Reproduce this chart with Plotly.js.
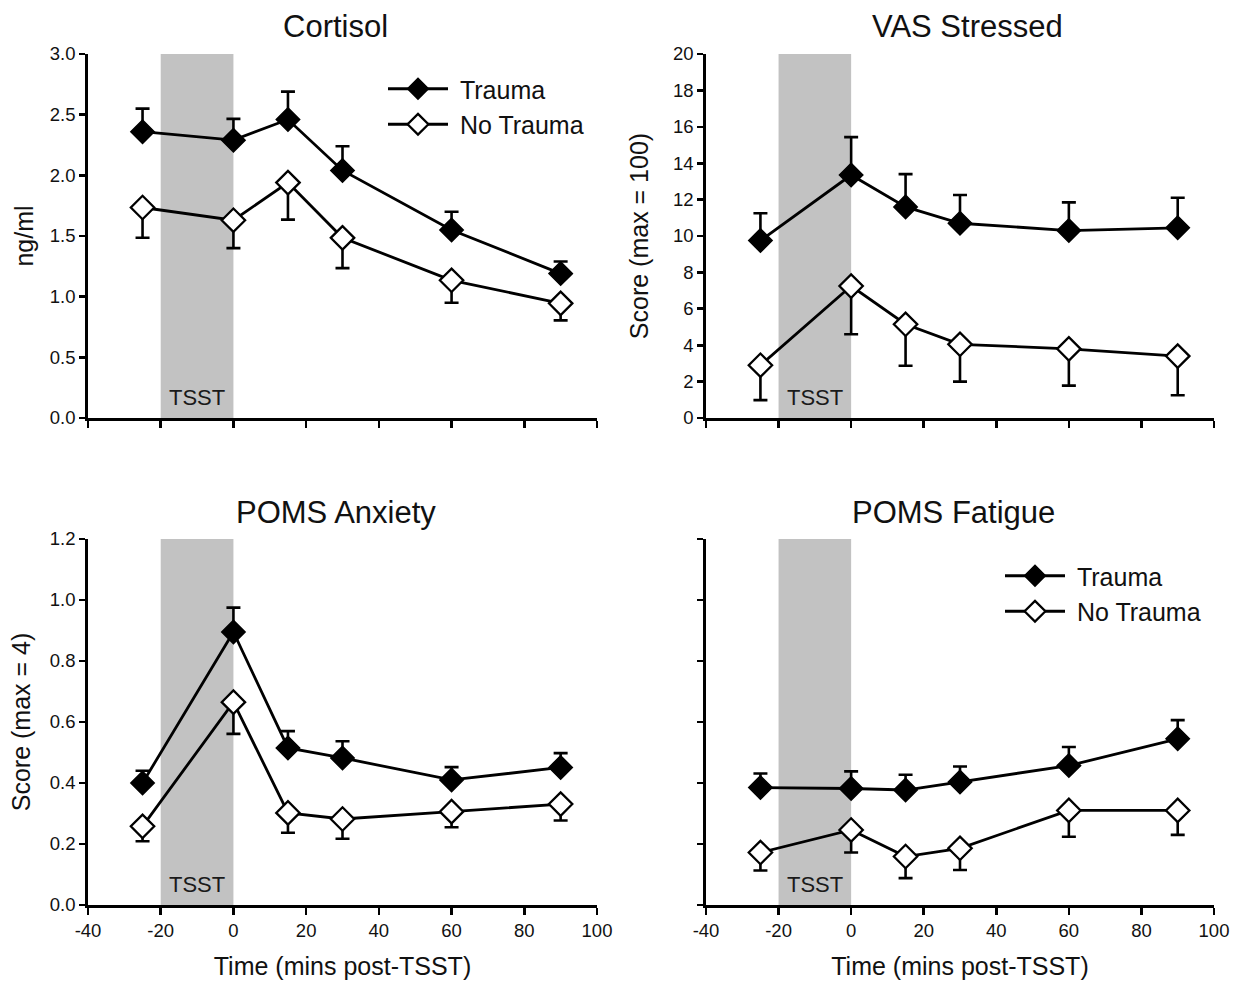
<!DOCTYPE html>
<html>
<head>
<meta charset="utf-8">
<script src="https://cdn.plot.ly/plotly-3.0.1.min.js"></script>
<style>html,body{margin:0;padding:0;background:#fff;}#chart{width:1243px;height:983px;}</style>
</head>
<body>
<div id="chart"></div>
<script>
// ---- data ----
const times = [-25, 0, 15, 30, 60, 90];
const seriesNames = ["Trauma", "No Trauma"];
const panelTitles = ["Cortisol", "VAS Stressed", "POMS Anxiety", "POMS Fatigue"];
const yTitles = ["ng/ml", "Score (max = 100)", "Score (max = 4)", ""];
const tsstStart = -20, tsstEnd = 0, tsstLabel = "TSST";
const xTitle = "Time (mins post-TSST)";
const xTickVals = [-40, -20, 0, 20, 40, 60, 80, 100];
const xTickText = ["-40", "-20", "0", "20", "40", "60", "80", "100"];

const cortisolTrauma = [2.36, 2.29, 2.46, 2.04, 1.55, 1.19];
const cortisolTraumaErr = [0.19, 0.175, 0.23, 0.2, 0.15, 0.1];
const cortisolNoTrauma = [1.735, 1.63, 1.94, 1.485, 1.135, 0.945];
const cortisolNoTraumaErr = [0.25, 0.23, 0.305, 0.25, 0.185, 0.14];

const vasTrauma = [9.75, 13.35, 11.6, 10.7, 10.3, 10.45];
const vasTraumaErr = [1.5, 2.08, 1.8, 1.55, 1.55, 1.65];
const vasNoTrauma = [2.9, 7.25, 5.15, 4.05, 3.8, 3.4];
const vasNoTraumaErr = [1.92, 2.65, 2.28, 2.05, 2.02, 2.15];

const anxTrauma = [0.40, 0.895, 0.515, 0.482, 0.41, 0.451];
const anxTraumaErr = [0.04, 0.08, 0.055, 0.055, 0.042, 0.047];
const anxNoTrauma = [0.258, 0.665, 0.302, 0.282, 0.306, 0.331];
const anxNoTraumaErr = [0.049, 0.104, 0.065, 0.065, 0.051, 0.054];

const fatTrauma = [0.385, 0.382, 0.377, 0.403, 0.457, 0.545];
const fatTraumaErr = [0.046, 0.056, 0.05, 0.051, 0.061, 0.061];
const fatNoTrauma = [0.172, 0.246, 0.159, 0.186, 0.31, 0.31];
const fatNoTraumaErr = [0.059, 0.074, 0.071, 0.071, 0.086, 0.08];

const yRanges = [[0, 3], [0, 20], [0, 1.2], [0, 1.2]];
const yDticks = [0.5, 2, 0.2, 0.2];
const yFormats = [".1f", "d", ".1f", ".1f"];

// ---- build ----
const FONT = "Arial, 'Liberation Sans', sans-serif";
const TXT = "#111";
const panels = [
  [cortisolTrauma, cortisolTraumaErr, cortisolNoTrauma, cortisolNoTraumaErr],
  [vasTrauma, vasTraumaErr, vasNoTrauma, vasNoTraumaErr],
  [anxTrauma, anxTraumaErr, anxNoTrauma, anxNoTraumaErr],
  [fatTrauma, fatTraumaErr, fatNoTrauma, fatNoTraumaErr]
];
const W = 1243, H = 983;
const xDom = [[88 / W, 597 / W], [706 / W, 1214 / W]];
const yDom = [[1 - 418 / H, 1 - 54 / H], [1 - 905 / H, 1 - 539 / H]];
const titleShift = [-7, 7, -7, -7];
const yTitleStandoff = [9, 18, 12, 0];

const traces = [];
const legendStyle = {
  xanchor: "left", yanchor: "top",
  font: {size: 25, family: FONT, color: TXT}, bgcolor: "rgba(0,0,0,0)",
  itemwidth: 60, tracegroupgap: 0
};
const layout = {
  width: W, height: H,
  margin: {l: 0, r: 0, t: 0, b: 0},
  paper_bgcolor: "#fff", plot_bgcolor: "rgba(0,0,0,0)",
  font: {family: FONT, color: TXT},
  shapes: [], annotations: [],
  legend: Object.assign({x: 383 / W, y: 1 - 66 / H}, legendStyle),
  legend2: Object.assign({x: 1000 / W, y: 1 - 553 / H}, legendStyle)
};

panels.forEach((p, i) => {
  const col = i % 2, row = Math.floor(i / 2);
  const n = i + 1;
  const xa = "x" + (n === 1 ? "" : n), ya = "y" + (n === 1 ? "" : n);
  const xkey = "xaxis" + (n === 1 ? "" : n), ykey = "yaxis" + (n === 1 ? "" : n);
  const legendRef = i === 0 ? "legend" : (i === 3 ? "legend2" : null);
  const zeros = times.map(() => 0);
  const common = {
    x: times, xaxis: xa, yaxis: ya, type: "scatter", mode: "lines+markers",
    line: {color: "#000", width: 2.8},
    showlegend: legendRef !== null,
    legend: legendRef || "legend"
  };
  traces.push(Object.assign({}, common, {
    y: p[0], name: "\u00a0" + seriesNames[0],
    marker: {symbol: "diamond", size: 18, color: "#000", line: {color: "#000", width: 1.5}},
    error_y: {type: "data", symmetric: false, array: p[1], arrayminus: zeros,
      color: "#000", thickness: 2.6, width: 7}
  }));
  traces.push(Object.assign({}, common, {
    y: p[2], name: "\u00a0" + seriesNames[1],
    marker: {symbol: "diamond", size: 18, color: "#fff", line: {color: "#000", width: 2.3}},
    error_y: {type: "data", symmetric: false, array: zeros, arrayminus: p[3],
      color: "#000", thickness: 2.6, width: 7}
  }));

  layout[xkey] = {
    domain: xDom[col], anchor: ya, range: [-40, 100],
    tickmode: "array", tickvals: xTickVals, ticktext: xTickText,
    showline: true, linecolor: "#000", linewidth: 2.8, mirror: false,
    ticks: "outside", ticklen: 7, tickwidth: 2.6, tickcolor: "#000",
    showgrid: false, zeroline: false, fixedrange: true,
    showticklabels: row === 1,
    tickfont: {size: 18.5, family: FONT, color: TXT},
    title: row === 1 ? {text: xTitle, font: {size: 25, family: FONT, color: TXT}, standoff: 18} : undefined
  };
  layout[ykey] = {
    domain: yDom[row], anchor: xa, range: yRanges[i], dtick: yDticks[i], tick0: 0,
    showline: true, linecolor: "#000", linewidth: 2.8,
    ticks: "outside", ticklen: 6, tickwidth: 2.6, tickcolor: "#000",
    showgrid: false, zeroline: false, fixedrange: true,
    tickformat: yFormats[i], showticklabels: i !== 3,
    tickfont: {size: 18.5, family: FONT, color: TXT},
    title: {text: yTitles[i], font: {size: 25, family: FONT, color: TXT}, standoff: yTitleStandoff[i]}
  };

  layout.shapes.push({
    type: "rect", xref: xa, yref: ya + " domain", x0: tsstStart, x1: tsstEnd, y0: 0, y1: 1,
    fillcolor: "#c2c2c2", line: {width: 0}, layer: "below"
  });
  layout.annotations.push({
    xref: xa, yref: ya + " domain", x: (tsstStart + tsstEnd) / 2, y: 0,
    xanchor: "center", yanchor: "bottom", yshift: 6, showarrow: false,
    text: tsstLabel, font: {size: 22, family: FONT, color: "#1a1a1a"}
  });
  layout.annotations.push({
    xref: "paper", yref: "paper",
    x: (xDom[col][0] + xDom[col][1]) / 2, y: yDom[row][1], yshift: 27, xshift: titleShift[i],
    xanchor: "center", yanchor: "middle", showarrow: false,
    text: panelTitles[i], font: {size: 31, family: FONT, color: TXT}
  });
});

Plotly.newPlot("chart", traces, layout, {staticPlot: true, displayModeBar: false});
</script>
</body>
</html>
